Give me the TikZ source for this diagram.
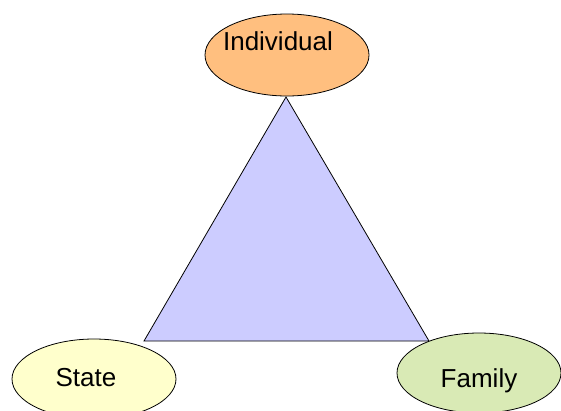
\documentclass[tikz,border=0pt]{standalone}
\usepackage{fontspec}
\setmainfont{Liberation Sans}
\usetikzlibrary{shapes.geometric}

\definecolor{triFill}{RGB}{204,204,255}
\definecolor{indFill}{RGB}{255,191,127}
\definecolor{stateFill}{RGB}{255,255,204}
\definecolor{famFill}{RGB}{217,234,181}

\tikzset{
  actor/.style={ellipse, draw=black, line width=0.8pt, inner sep=0pt,
                minimum width=164pt, minimum height=80pt},
  actorlabel/.style={inner sep=0pt, anchor=base, font=\fontsize{26}{30}\selectfont},
  triangle/.style={draw=black, line width=0.8pt, fill=triFill, line join=miter}
}

\begin{document}
\begin{tikzpicture}[x=1pt, y=-1pt]
  \useasboundingbox (0,0) rectangle (561,410);

  % vertices of the central triangle
  \coordinate (top) at (286,97);
  \coordinate (left) at (144,341);
  \coordinate (right) at (429,341);
  \draw[triangle] (top) -- (right) -- (left) -- cycle;

  % the three actors
  \node[actor, fill=indFill, minimum height=82pt] (individual) at (287,55) {};
  \node[actor, fill=stateFill] (state) at (94,379) {};
  \node[actor, fill=famFill] (family) at (479,373) {};

  \node[actorlabel] (individualtext) at (278,50) {Individual};
  \node[actorlabel] (statetext) at (86,386) {State};
  \node[actorlabel] (familytext) at (479,387) {Family};
\end{tikzpicture}
\end{document}
